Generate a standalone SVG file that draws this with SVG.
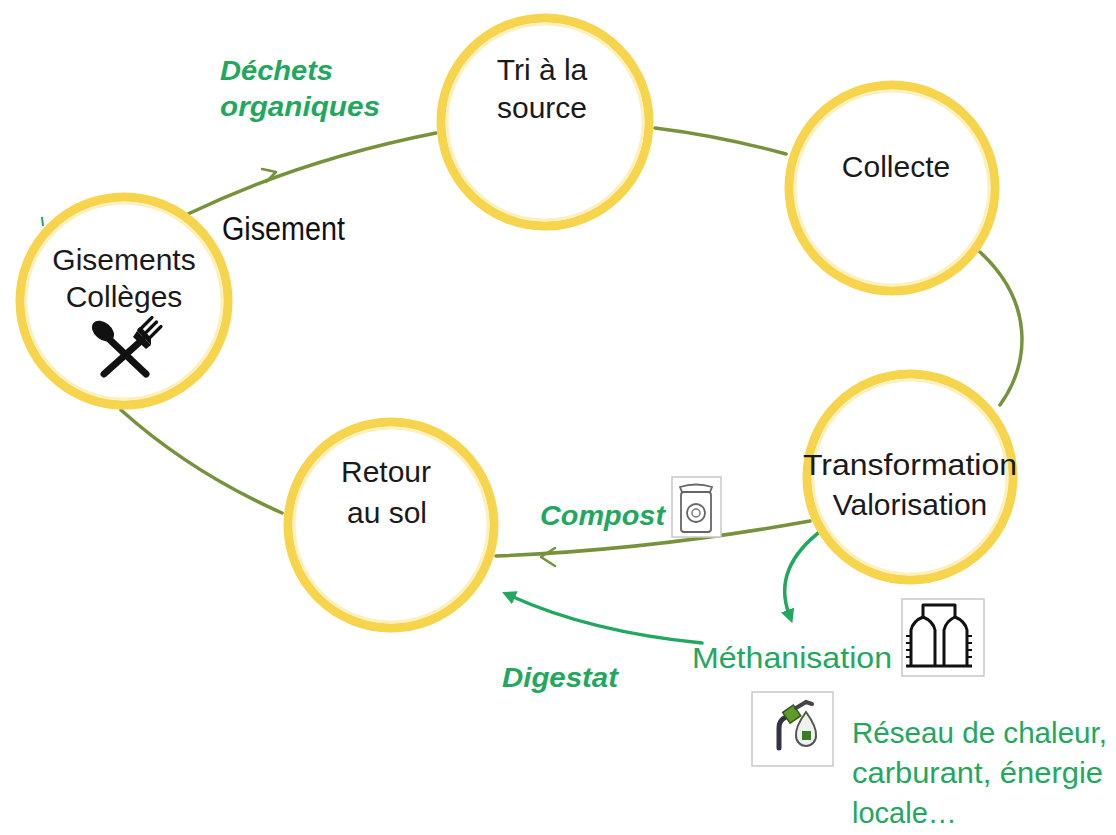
<svg xmlns="http://www.w3.org/2000/svg" width="1116" height="835" viewBox="0 0 1116 835">
<style>
.ring{fill:#fff;stroke:#F6D44C;stroke-width:9}
.inner{fill:none;stroke:#FCF0BE;stroke-width:3}
.lbl{font-family:"Liberation Sans",Arial,sans-serif;font-size:30px;fill:#1a1a1a;text-anchor:middle}
.grn{font-family:"Liberation Sans",Arial,sans-serif;font-size:27px;font-weight:bold;font-style:italic;fill:#22A85E}
.grnr{font-family:"Liberation Sans",Arial,sans-serif;font-size:29px;fill:#22A85E}
.conn{fill:none;stroke:#76933C;stroke-width:3.5;stroke-linecap:round}
.chev{fill:none;stroke:#76933C;stroke-width:2.5;stroke-linecap:round;stroke-linejoin:round}
.garr{fill:none;stroke:#22A85E;stroke-width:3.5;stroke-linecap:round}
.box{fill:#fff;stroke:#c8c8c8;stroke-width:1.5}
</style>
<defs>
<marker id="ga" viewBox="0 0 10 10" refX="3" refY="5" markerWidth="4" markerHeight="4" orient="auto" markerUnits="strokeWidth">
<path d="M0,0 L10,5 L0,10 Z" fill="#22A85E"/>
</marker>
</defs>
<rect width="1116" height="835" fill="#fff"/>

<g id="connectors">
<path class="conn" d="M188 214 Q300 160 436 133"/>
<path class="chev" d="M262 169 L276 172 L266 182"/>
<path class="conn" d="M655 128 Q720 136 786 154"/>
<path class="conn" d="M980 252 C1032 300 1032 360 1000 405"/>
<path class="conn" d="M810 521 Q650 550 496 556"/>
<path class="chev" d="M555 548 L541 557 L555 566"/>
<path class="conn" d="M282 513 Q190 472 121 410"/>
<path class="garr" d="M822 530 Q772 568 789 614" marker-end="url(#ga)"/>
<path class="garr" d="M702 643 Q590 632 511 596" marker-end="url(#ga)"/>
<path d="M42 217 L43 226" stroke="#22A85E" stroke-width="2"/>
</g>

<g id="node-gisements">
<circle class="ring" cx="124" cy="301" r="104"/>
<circle class="inner" cx="124" cy="301" r="98"/>
<text class="lbl" x="124" y="270" font-size="31">Gisements</text>
<text class="lbl" x="124" y="307">Collèges</text>
<g id="icon-couverts">
<ellipse cx="103" cy="331" rx="12.5" ry="8.5" transform="rotate(40 103 331)" fill="#111"/>
<line x1="108" y1="338" x2="146" y2="374" stroke="#111" stroke-width="7" stroke-linecap="round"/>
<line x1="142" y1="340" x2="104" y2="374" stroke="#111" stroke-width="7" stroke-linecap="round"/>
<path d="M137 331 L151 345 L146 349 L133 337 Z" fill="#111"/>
<path d="M137 331 Q138 327 141 327 L151 338 Q151 342 151 345 Z" fill="#111"/>
<line x1="139.5" y1="330" x2="152" y2="317.5" stroke="#111" stroke-width="3.2" stroke-linecap="round"/>
<line x1="144" y1="334.5" x2="156.5" y2="322" stroke="#111" stroke-width="3.2" stroke-linecap="round"/>
<line x1="148.5" y1="339" x2="161" y2="326.5" stroke="#111" stroke-width="3.2" stroke-linecap="round"/>
</g>
</g>

<g id="node-tri">
<circle class="ring" cx="545" cy="122" r="104"/>
<circle class="inner" cx="545" cy="122" r="98"/>
<text class="lbl" x="542" y="80">Tri à la</text>
<text class="lbl" x="542" y="118">source</text>
</g>

<g id="node-collecte">
<circle class="ring" cx="892" cy="188" r="103"/>
<circle class="inner" cx="892" cy="188" r="97"/>
<text class="lbl" x="896" y="177" font-size="31">Collecte</text>
</g>

<g id="node-transformation">
<circle class="ring" cx="910" cy="477" r="103"/>
<circle class="inner" cx="910" cy="477" r="97"/>
<text class="lbl" x="910" y="475" textLength="214" lengthAdjust="spacingAndGlyphs">Transformation</text>
<text class="lbl" x="910" y="515" font-size="31">Valorisation</text>
</g>

<g id="node-retour">
<circle class="ring" cx="391" cy="525" r="103"/>
<circle class="inner" cx="391" cy="525" r="97"/>
<text class="lbl" x="386" y="482">Retour</text>
<text class="lbl" x="387" y="523">au sol</text>
</g>

<g id="labels">
<text class="grn" x="220" y="80" textLength="113" lengthAdjust="spacingAndGlyphs">Déchets</text>
<text class="grn" x="220" y="116" textLength="160" lengthAdjust="spacingAndGlyphs">organiques</text>
<text x="222" y="240" font-family="Liberation Sans,Arial,sans-serif" font-size="33" fill="#111" textLength="123" lengthAdjust="spacingAndGlyphs">Gisement</text>
<text class="grn" x="540" y="525" textLength="125" lengthAdjust="spacingAndGlyphs">Compost</text>
<text class="grn" x="502" y="687" textLength="116" lengthAdjust="spacingAndGlyphs">Digestat</text>
<text class="grnr" x="692" y="668" textLength="200" lengthAdjust="spacingAndGlyphs">Méthanisation</text>
<text class="grnr" x="852" y="743" textLength="255" lengthAdjust="spacingAndGlyphs">Réseau de chaleur,</text>
<text class="grnr" x="852" y="783" textLength="251" lengthAdjust="spacingAndGlyphs">carburant, énergie</text>
<text class="grnr" x="852" y="823">locale…</text>
</g>

<g id="icon-compost">
<rect class="box" x="672" y="477" width="49" height="60"/>
<path d="M680 487 Q696 482 712 487 L710 492 L682 492 Z" fill="none" stroke="#666" stroke-width="1.8"/>
<rect x="681" y="492" width="30" height="40" rx="3" fill="none" stroke="#666" stroke-width="1.8"/>
<circle cx="696" cy="513" r="9" fill="none" stroke="#666" stroke-width="1.8"/>
<circle cx="696" cy="513" r="4" fill="none" stroke="#777" stroke-width="1.5"/>
</g>

<g id="icon-methanisation">
<rect class="box" x="902" y="599" width="82" height="77"/>
<g fill="none" stroke="#111" stroke-width="3" stroke-linejoin="round">
<path d="M911 666 L911 630 Q913 621 923 617 Q933 621 935 630 L935 666"/>
<path d="M944 666 L944 630 Q946 621 955 617 Q965 621 967 630 L967 666"/>
<path d="M923 617 L923 605 L955 605 L955 617"/>
<path d="M906 666 L972 666"/>
</g>
<g stroke="#111" stroke-width="2">
<path d="M906 636 H911 M906 643 H911 M906 650 H911 M906 657 H911"/>
<path d="M967 636 H972 M967 643 H972 M967 650 H972 M967 657 H972"/>
</g>
</g>

<g id="icon-energie">
<rect class="box" x="752" y="692" width="81" height="74"/>
<path d="M779 748 L779 728 Q779 720 786 717" fill="none" stroke="#334" stroke-width="5" stroke-linecap="round"/>
<rect x="785" y="708" width="13" height="13" transform="rotate(-35 791 714)" fill="#5E9B2C" stroke="#2f5a18" stroke-width="1.5"/>
<path d="M796 708 L806 702 L812 704" fill="none" stroke="#444" stroke-width="4" stroke-linecap="round"/>
<path d="M806 712 Q795 727 796 736 A10 10 0 0 0 816 736 Q817 727 806 712 Z" fill="#eef2ee" stroke="#555" stroke-width="2"/>
<rect x="802" y="731" width="9" height="9" fill="#3E7A2A"/>
</g>
</svg>
